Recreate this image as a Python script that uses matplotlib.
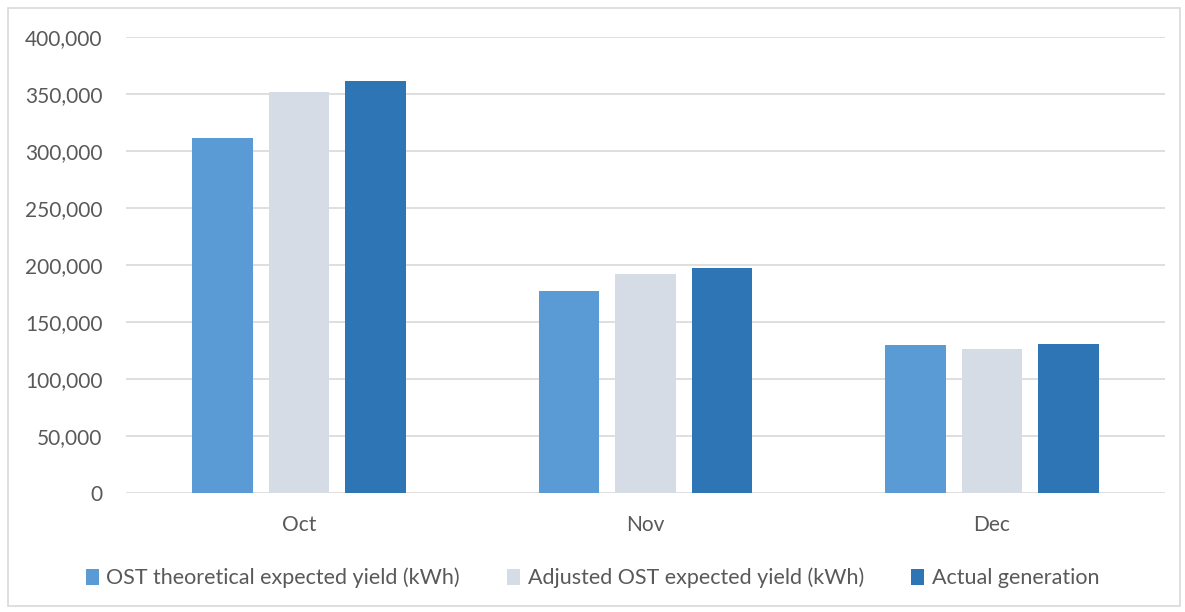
import matplotlib
matplotlib.use("Agg")
import matplotlib.pyplot as plt
import numpy as np
from matplotlib.patches import Rectangle
from matplotlib.ticker import FuncFormatter

categories = ["Oct", "Nov", "Dec"]
series_names = ["OST theoretical expected yield (kWh)",
                "Adjusted OST expected yield (kWh)",
                "Actual generation"]
ost_theoretical = [311000, 177000, 130000]
adjusted_ost = [352000, 192500, 126500]
actual_generation = [361000, 197500, 131000]
colors = ["#5B9BD5", "#D6DCE5", "#2E75B6"]
yticks = [0, 50000, 100000, 150000, 200000, 250000, 300000, 350000, 400000]

plt.rcParams['font.family'] = ['Lato', 'DejaVu Sans']
text_color = "#595959"

W, H = 1185, 612
fig = plt.figure(figsize=(W/100, H/100), dpi=100)
ax = fig.add_axes([126/W, 1-493/H, (1165-126)/W, (493-37)/H])

x = np.arange(len(categories))
bw = 0.175
step = 0.221
data = [ost_theoretical, adjusted_ost, actual_generation]
for i, (vals, name, c) in enumerate(zip(data, series_names, colors)):
    ax.bar(x + (i-1)*step, vals, width=bw, color=c, label=name, zorder=3)

ax.set_xlim(-0.5, 2.5)
ax.set_ylim(0, 400000)
ax.set_yticks(yticks)
ax.yaxis.set_major_formatter(FuncFormatter(lambda v, p: f"{int(v):,}"))
ax.set_xticks(x)
ax.set_xticklabels(categories)
ax.grid(axis='y', color="#D9D9D9", linewidth=1.2, zorder=0)
for s in ax.spines.values():
    s.set_visible(False)
ax.tick_params(axis='both', length=0, labelsize=15, labelcolor=text_color)
ax.tick_params(axis='y', pad=17)
ax.tick_params(axis='x', pad=16)

leg = fig.legend(loc='center', bbox_to_anchor=(0.5, 1-578/H), ncol=3, frameon=False,
                 fontsize=15.5, handlelength=0.6, handleheight=0.75, handletextpad=0.35,
                 columnspacing=2.2, labelcolor=text_color)

fig.patches.append(Rectangle((8/W, 1-606/H), (1180-8)/W, (606-8)/H, transform=fig.transFigure,
                             fill=False, edgecolor="#D9D9D9", linewidth=1.2))

fig.savefig("out.png", dpi=100)
